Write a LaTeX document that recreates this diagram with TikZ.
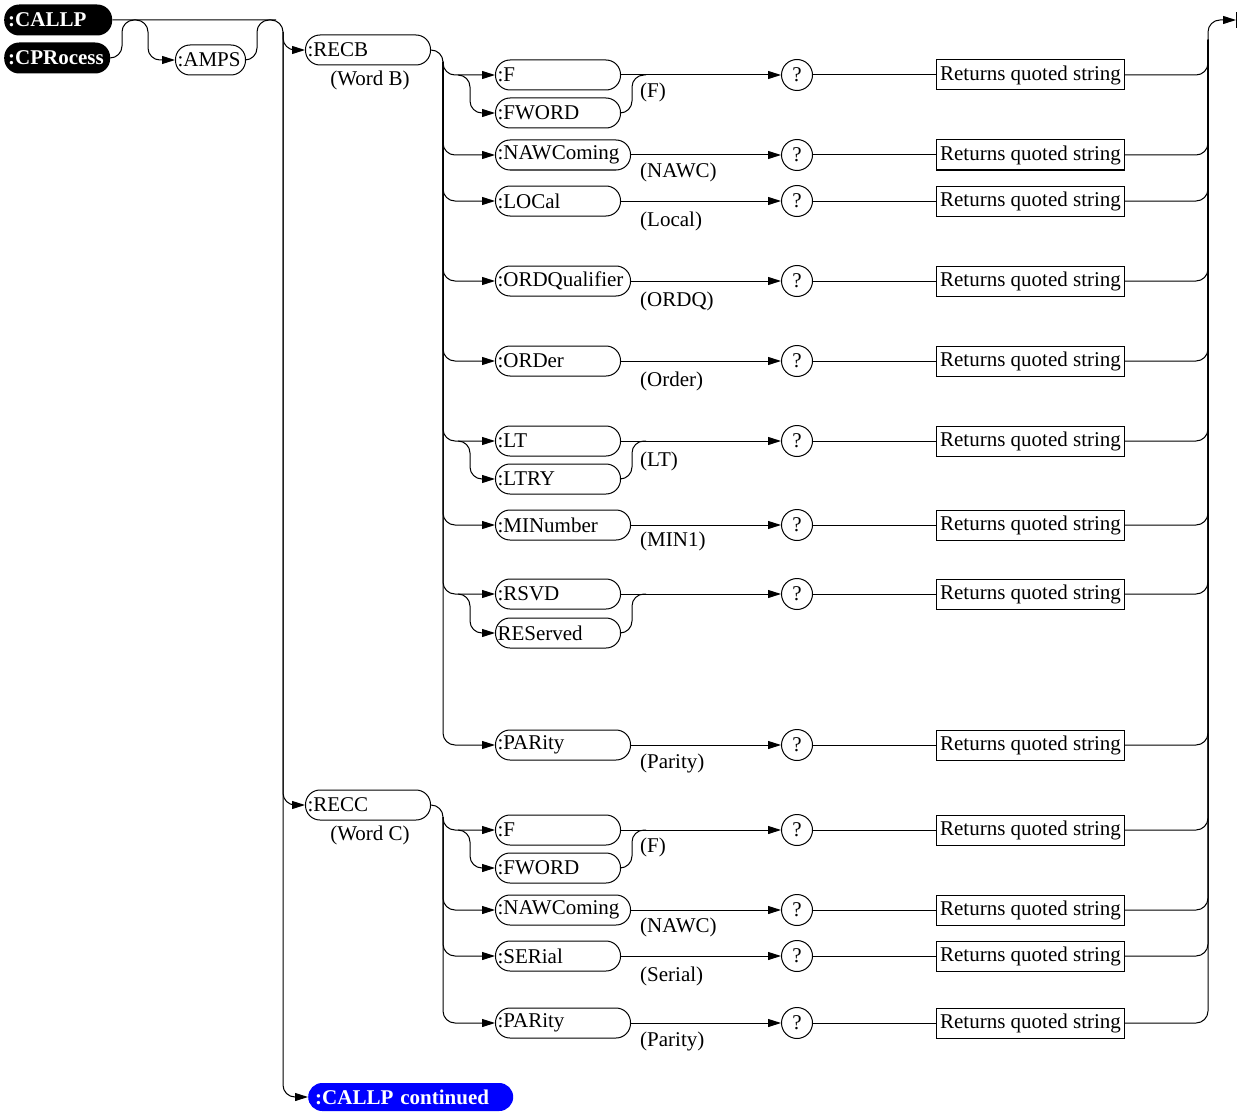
\documentclass[tikz,border=0pt]{standalone}
\usepackage{fontspec}
\setmainfont{Liberation Serif}
\usetikzlibrary{arrows.meta}
\definecolor{cblue}{RGB}{0,0,255}
\begin{document}
\begin{tikzpicture}[x=1pt,y=-1pt,
  font=\fontsize{21}{25}\selectfont,
  ln/.style={line width=1pt},
  arr/.style={ln,-{Triangle[length=13pt,width=8pt]}},
  rc/.style={rounded corners=12pt},
  kw/.style={draw,ln,rounded corners=14.5pt,minimum height=30pt,inner xsep=2pt,inner ysep=0pt,anchor=west,align=left,text width=#1},
  qc/.style={draw,ln,circle,minimum size=31pt,inner sep=0pt},
  ret/.style={draw,ln,rectangle,minimum height=30pt,minimum width=188pt,inner sep=1pt,anchor=west},
  lbl/.style={anchor=west,inner sep=0pt},
  blk/.style={fill=black,text=white,rounded corners=15pt,font={\fontsize{21}{25}\selectfont\bfseries},minimum height=31pt,inner xsep=4pt,inner ysep=0pt,anchor=west,align=left,text width=#1},
  blu/.style={fill=cblue,text=white,rounded corners=14pt,font={\fontsize{21}{25}\selectfont\bfseries},minimum height=28pt,inner xsep=7pt,inner ysep=0pt,anchor=west,align=left,text width=#1}
]
\useasboundingbox (0,0) rectangle (1237,1113);

% top-level keywords
\node[blk=100pt] (callp) at (4,20) {:CALLP};
\node[blk=98pt] (cpr) at (4,58) {:CPRocess};
\node[kw=66pt] (amps) at (175,60) {:AMPS};
\node[kw=121pt] (recb) at (305,50) {:RECB};
\node (wordb) at (370,80) {(Word B)};
\node[kw=121pt] (recc) at (305,805) {:RECC};
\node (wordc) at (370,835) {(Word C)};
\node[blu=191pt] (cont) at (308,1097) {:CALLP continued};

\coordinate (sA) at (283,32);
\coordinate (sB) at (443,62);
\coordinate (sC) at (443,817);
\coordinate (endc) at (1236,20);

% main spine
\draw[arr,rc] (callp.east) -- (283,20) -- (283,1097) -- (cont.west);
\draw[arr,rc] (cpr.east) -- (122,58) -- (122,20) -- (148,20) -- (148,60) -- (amps.west);
\draw[ln,rc] (amps.east) -- (257,60) -- (257,20) -- (276,20);
\draw[arr,rc] (sA) |- (recb.west);
\draw[arr,rc] (sA) |- (recc.west);

% rows
\foreach \n/\y/\t/\w/\l/\ly in {
  b1/75/:F/121pt/(F)/92,
  b2/155/:NAWComing/131pt/(NAWC)/172,
  b3/201/:LOCal/121pt/(Local)/221,
  b4/281/:ORDQualifier/131pt/(ORDQ)/301,
  b5/361/:ORDer/121pt/(Order)/381,
  b6/441/:LT/121pt/(LT)/461,
  b7/525/:MINumber/131pt/(MIN1)/541,
  b8/594/:RSVD/121pt//613,
  b9/745/:PARity/131pt/(Parity)/763,
  c1/830/:F/121pt/(F)/847,
  c2/910/:NAWComing/131pt/(NAWC)/927,
  c3/956/:SERial/121pt/(Serial)/976,
  c4/1023/:PARity/131pt/(Parity)/1041}{
  \node[kw=\w] (\n) at (495,\y) {\t};
  \node[qc] (q\n) at (797,\y) {?};
  \node[ret] (r\n) at (936,\y) {Returns quoted string};
  \node[lbl] (l\n) at (640,\ly) {\l};
  \draw[arr] (\n.east) -- (q\n.west);
  \draw[ln] (q\n.east) -- (r\n.west);
  \draw[ln,rc] (r\n.east) -- (1208,\y) -- (1208,40);
}

% alternate keywords
\foreach \n/\y/\ya/\t in {b1/75/113/:FWORD, b6/441/479/:LTRY, b8/594/633/REServed, c1/830/868/:FWORD}{
  \node[kw=121pt] (\n a) at (495,\ya) {\t};
  \draw[arr,rc] (458,\y) -- (470,\y) -- (470,\ya) -- (\n a.west);
  \draw[ln,rc] (\n a.east) -- (632,\ya) -- (632,\y) -- (646,\y);
}

% left sub-spines
\draw[arr,rc] (recb.east) -- (443,50) -- (443,75) -- (b1.west);
\foreach \n in {b2,b3,b4,b5,b6,b7,b8,b9}{
  \draw[arr,rc] (sB) |- (\n.west);
}
\draw[arr,rc] (recc.east) -- (443,805) -- (443,830) -- (c1.west);
\foreach \n in {c2,c3,c4}{
  \draw[arr,rc] (sC) |- (\n.west);
}

% end
\draw[arr,rc] (1208,60) -- (1208,20) -- (endc);
\draw[ln] ([yshift=-8pt]endc) -- ([yshift=8pt]endc);
\end{tikzpicture}
\end{document}
